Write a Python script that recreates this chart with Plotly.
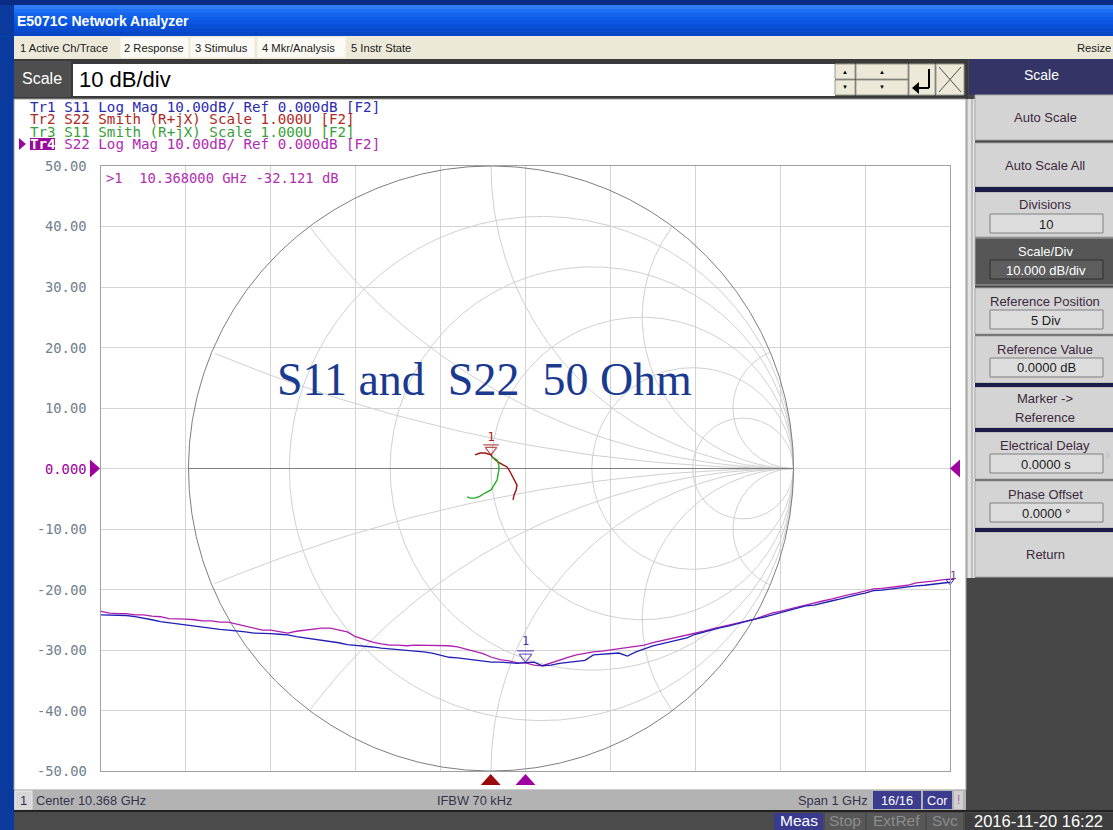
import numpy as np
import plotly.graph_objects as go

W, H = 1113, 830

# ---------------- sweep / measurement data ----------------
center_ghz = 10.368
span_ghz = 1.0
n_points = 101
freq_ghz = [round(center_ghz - span_ghz / 2 + i * span_ghz / (n_points - 1), 4) for i in range(n_points)]

# Tr1: S11 log magnitude (dB)
s11_logmag_db = [
    -24.2, -24.2, -24.2, -24.3, -24.5, -24.7, -25.0, -25.3, -25.5, -25.7, -25.9,
    -26.1, -26.3, -26.5, -26.6, -26.7, -26.8, -27.0, -27.2, -27.2, -27.3,
    -27.4, -27.5, -27.8, -28.0, -28.2, -28.3, -28.6, -28.8, -29.1, -29.2,
    -29.3, -29.5, -29.7, -29.8, -30.0, -30.0, -30.2, -30.3, -30.5, -30.8,
    -31.2, -31.3, -31.5, -31.7, -31.8, -32.0, -32.0, -32.1, -32.2, -32.1,
    -32.0, -32.6, -32.5, -32.2, -32.0, -31.8, -31.7, -30.8, -30.7, -30.6,
    -30.5, -31.0, -30.3, -29.8, -29.3, -29.0, -28.7, -28.3, -28.0, -27.4,
    -27.0, -26.7, -26.3, -26.0, -25.6, -25.3, -24.9, -24.6, -24.2, -23.8,
    -23.4, -23.1, -22.7, -22.6, -22.2, -21.9, -21.6, -21.2, -20.9, -20.6,
    -20.2, -20.1, -19.9, -19.8, -19.6, -19.4, -19.3, -19.1, -18.9, -18.8,
]

# Tr4: S22 log magnitude (dB)
s22_logmag_db = [
    -23.6, -23.9, -24.0, -24.0, -24.2, -24.2, -24.4, -24.5, -24.8, -24.8, -24.9,
    -25.0, -25.2, -25.2, -25.4, -25.4, -25.7, -26.0, -26.4, -26.7, -26.7,
    -27.0, -27.2, -26.9, -26.7, -26.5, -26.4, -26.4, -26.7, -27.0, -27.8,
    -28.3, -28.7, -29.0, -29.2, -29.2, -29.3, -29.2, -29.2, -29.2, -29.2,
    -29.3, -29.5, -29.9, -30.2, -30.6, -31.2, -31.6, -31.8, -32.1, -32.121,
    -32.5, -32.6, -32.1, -31.6, -31.2, -30.8, -30.5, -30.3, -30.2, -30.0,
    -29.8, -29.7, -29.5, -29.2, -28.8, -28.5, -28.2, -27.8, -27.5, -27.2,
    -26.9, -26.5, -26.2, -25.9, -25.5, -25.2, -24.9, -24.4, -23.9, -23.6,
    -23.2, -22.9, -22.6, -22.2, -21.9, -21.6, -21.2, -20.9, -20.6, -20.2,
    -19.9, -19.8, -19.6, -19.4, -19.3, -18.9, -18.8, -18.6, -18.4, -18.3,
]

# Tr2: S22 on the Smith chart (reflection coefficient, real / imaginary)
s22_gamma_re = [-0.053, -0.036, -0.020, -0.010, 0.000, 0.007, 0.023, 0.040,
                0.053, 0.060, 0.069, 0.079, 0.086, 0.083, 0.076, 0.073]
s22_gamma_im = [0.045, 0.051, 0.051, 0.048, 0.045, 0.035, 0.022, 0.012,
                0.005, -0.005, -0.022, -0.038, -0.055, -0.071, -0.088, -0.104]
s22_marker_idx = 4

# Tr3: S11 on the Smith chart
s11_gamma_re = [0.003, 0.020, 0.026, 0.026, 0.023, 0.020, 0.010, 0.000,
                -0.020, -0.036, -0.053, -0.069, -0.079]
s11_gamma_im = [0.038, 0.028, 0.012, -0.005, -0.022, -0.038, -0.055, -0.071,
                -0.081, -0.091, -0.098, -0.098, -0.094]

# marker readout
marker_freq_ghz = 10.368
marker_value_db = -32.121
smith_marker_freq_ghz = 10.327

y_tick_values = [50, 40, 30, 20, 10, 0, -10, -20, -30, -40, -50]
y_tick_labels = ["50.00", "40.00", "30.00", "20.00", "10.00", "0.000",
                 "-10.00", "-20.00", "-30.00", "-40.00", "-50.00"]

legend_lines = [
    ("Tr1 S11 Log Mag 10.00dB/ Ref 0.000dB [F2]", "#2a2ab0"),
    ("Tr2 S22 Smith (R+jX) Scale 1.000U [F2]", "#b0281c"),
    ("Tr3 S11 Smith (R+jX) Scale 1.000U [F2]", "#38a038"),
    ("Tr4 S22 Log Mag 10.00dB/ Ref 0.000dB [F2]", "#b02ab0"),
]

# ---------------- screen geometry (pixels) ----------------
GX0, GX1, GY0, GY1 = 101, 950, 166, 771        # graticule box
SMITH_CX = 491                                  # Smith chart centre column
SMITH_R = (GY1 - GY0) / 2                       # unit-circle radius in px

MONO = "DejaVu Sans Mono"
SANS = "Liberation Sans"
SERIF = "Liberation Serif"

C_BLUE = "#1f1fb4"
C_MAG = "#b01eb0"
C_RED = "#a01010"
C_GRN = "#22b022"
C_PURPLE = "#a000a0"


def X(px):
    return px / W


def Y(py):
    return 1 - py / H


shapes = []
annots = []


def rect(x0, y0, x1, y1, fill, line=None, lw=1, layer="below"):
    shapes.append(dict(type="rect", xref="paper", yref="paper",
                       x0=X(x0), x1=X(x1), y0=Y(y1), y1=Y(y0),
                       fillcolor=fill, layer=layer,
                       line=dict(color=line if line else fill, width=lw if line else 0)))


def seg(x0, y0, x1, y1, color, lw=1, layer="above"):
    shapes.append(dict(type="line", xref="paper", yref="paper",
                       x0=X(x0), x1=X(x1), y0=Y(y0), y1=Y(y1), layer=layer,
                       line=dict(color=color, width=lw)))


def tri(points, color, layer="above"):
    path = "M " + " L ".join(f"{X(a):.5f},{Y(b):.5f}" for a, b in points) + " Z"
    shapes.append(dict(type="path", xref="paper", yref="paper", path=path,
                       fillcolor=color, line=dict(color=color, width=0), layer=layer))


def text(x, y, s, size, color, family=SANS, xanchor="left"):
    annots.append(dict(xref="paper", yref="paper", x=X(x), y=Y(y), text=s,
                       showarrow=False, xanchor=xanchor, yanchor="middle",
                       borderpad=0, borderwidth=0,
                       font=dict(size=size, color=color, family=family)))


def f2px(f):
    return GX0 + (f - freq_ghz[0]) / (freq_ghz[-1] - freq_ghz[0]) * (GX1 - GX0)


def db2px(v):
    return GY0 + (50 - v) / 100 * (GY1 - GY0)


# ---------------- window chrome ----------------
rect(0, 0, 14, H, "#0b3a9e")
rect(0, 0, W, 5, "#0a2c84")
bands = ["#2f7cf6", "#1d6ff2", "#1565ec", "#0f5de6", "#0b56e0", "#0950d8", "#084bd0", "#0746c8"]
bh = 31 / len(bands)
for i, c in enumerate(bands):
    rect(0, 5 + i * bh, W, 5 + (i + 1) * bh + 0.5, c)
rect(0, 5, 14, 36, "#0b3a9e")
text(17, 21, "<b>E5071C Network Analyzer</b>", 14, "white")

# menu bar
rect(14, 36, W, 59, "#ece9d8")
for x0, x1 in [(121, 188), (191, 254), (258, 345)]:
    rect(x0, 38, x1, 57, "#fbfaf5", "#fbfaf5")
for x, s in [(20, "1 Active Ch/Trace"), (124, "2 Response"), (195, "3 Stimulus"),
             (262, "4 Mkr/Analysis"), (351, "5 Instr State")]:
    text(x, 47.5, s, 11.2, "#202020")
text(1111, 47.5, "Resize", 11.2, "#202020", xanchor="right")

# entry bar
rect(14, 59, 968, 99, "#3a3a3a")
rect(14, 61, 71, 97, "#4e4e4e")
text(42, 79, "Scale", 16, "white", xanchor="center")
rect(73, 64, 835, 96, "white")
text(79, 80, "10 dB/div", 22, "black")
for x0, x1 in [(835, 855), (856, 908)]:
    rect(x0, 64, x1, 79, "#ece9d8", "#9a9a90")
    rect(x0, 80, x1, 95, "#ece9d8", "#9a9a90")
    text((x0 + x1) / 2, 71.5, "▲", 6, "black", xanchor="center")
    text((x0 + x1) / 2, 87.5, "▼", 6, "black", xanchor="center")
rect(909, 64, 935, 95, "#ece9d8", "#9a9a90")
rect(936, 64, 964, 95, "#ece9d8", "#9a9a90")
seg(929, 69, 929, 88, "black", 2)
seg(929, 88, 918, 88, "black", 2)
tri([(912, 88), (919, 82), (919, 94)], "black")
seg(939, 67, 961, 92, "#505050", 1)
seg(961, 67, 939, 92, "#505050", 1)
rect(969, 59, W, 95, "#343466")
text(1041, 75, "Scale", 14, "white", xanchor="center")

# softkey panel
rect(966, 99, 975, 578, "#e2e2e2")
seg(967, 99, 967, 578, "#9a9a9a", 1, "below")
seg(972, 99, 972, 578, "#9a9a9a", 1, "below")
softkeys = [
    (95, 140, "Auto Scale", None, False),
    (143, 187, "Auto Scale All", None, False),
    (192, 237, "Divisions", "10", False),
    (238, 285, "Scale/Div", "10.000 dB/div", True),
    (288, 334, "Reference Position", "5 Div", False),
    (336, 383, "Reference Value", "0.0000 dB", False),
    (387, 428, "Marker ->|Reference", None, False),
    (432, 479, "Electrical Delay", "0.0000 s", False),
    (481, 528, "Phase Offset", "0.0000 °", False),
    (532, 577, "Return", None, False),
]
for y0, y1, label, value, sel in softkeys:
    fill = "#565656" if sel else "#d4d4d4"
    rect(975, y0, W + 2, y1, fill, "#a8a8a8")
    tc = "white" if sel else "#3c2a3c"
    if value is None:
        if "|" in label:
            a, b = label.split("|")
            text(1045, (y0 + y1) / 2 - 9, a, 13, tc, xanchor="center")
            text(1045, (y0 + y1) / 2 + 10, b, 13, tc, xanchor="center")
        else:
            text(1045, (y0 + y1) / 2, label, 13, tc, xanchor="center")
    else:
        text(1045, y0 + 13, label, 13, tc, xanchor="center")
        bf = "#5e5e5e" if sel else "#dcdcdc"
        rect(990, y0 + 22, 1103, y0 + 41, bf, "#808080" if not sel else "#2e2e2e")
        text(1046, y0 + 32, value, 13, "white" if sel else "#1c1c1c", xanchor="center")
for y0, y1 in [(187, 192), (383, 387), (428, 432), (528, 532)]:
    rect(975, y0, W + 2, y1, "#1c1c4a")
tri([(1106, 450), (1111, 455), (1106, 460)], "#c8c8d0")

# display panel
rect(14, 99, 966, 790, "white", "#9a9a9a")

# status bars
rect(14, 790, 966, 810, "#b3b3b3")
rect(15, 791, 32, 809, "#d6d6d6", "#e8e8e8")
text(23.5, 800, "1", 13, "#3a2a5a", xanchor="center")
text(36, 800, "Center 10.368 GHz", 12.8, "#33334d")
text(437, 800, "IFBW 70 kHz", 12.8, "#33334d")
text(798, 800, "Span 1 GHz", 12.8, "#33334d")
rect(873, 791, 921, 809, "#3c3c8e")
text(897, 800, "16/16", 12.8, "white", xanchor="center")
rect(923, 791, 952, 809, "#3c3c8e")
text(937.5, 800, "Cor", 12.8, "white", xanchor="center")
rect(954, 791, 963, 809, "#d0d0d0")
text(958.5, 800, "!", 12, "#b060b0", xanchor="center")
rect(14, 810, W, 812, "#222222")
rect(14, 812, W, H, "#4b4b4b")
rect(774, 813, 823, H, "#3a3a8e")
text(798.5, 820.5, "Meas", 15.5, "white", xanchor="center")
for x0, x1, s in [(825, 865, "Stop"), (867, 925, "ExtRef"), (927, 963, "Svc")]:
    rect(x0, 813, x1, H, "#585858")
    text((x0 + x1) / 2, 820.5, s, 15.5, "#8c8c8c", xanchor="center")
rect(965, 813, W, H, "#3e3e3e")
text(1038, 820.5, "2016-11-20 16:22", 16.5, "white", xanchor="center")

# ---------------- graticule labels / legend ----------------
for v, lab in zip(y_tick_values, y_tick_labels):
    annots.append(dict(xref="paper", yref="y2", x=X(88), y=v, text=lab, showarrow=False,
                       xanchor="right", yanchor="middle", borderpad=0,
                       font=dict(size=13.8, family=MONO,
                                 color=C_PURPLE if v == 0 else "#72808e")))

legend_y = [106.5, 119, 131.5, 144]
for (s, c), yy in zip(legend_lines, legend_y):
    if s.startswith("Tr4"):
        rect(30, yy - 6, 55, yy + 6, "#9a0a9a")
        tri([(19, yy - 6), (26, yy), (19, yy + 6)], "#9a0a9a")
        s = "<span style='color:white'><b>Tr4</b></span>" + s[3:]
    text(30, yy, s, 14.2, c, family=MONO)

text(106, 178, ">1\u00a0\u00a010.368000 GHz -32.121 dB", 13.8, "#b030b0", family=MONO)

text(484, 380, "S11 and\u00a0\u00a0S22\u00a0\u00a050 Ohm", 46, "#1a3a90", family=SERIF, xanchor="center")

# reference-position arrows at 0 dB
yr = db2px(0)
tri([(90, yr - 9), (100, yr), (90, yr + 9)], C_PURPLE)
tri([(960, yr - 9), (950, yr), (960, yr + 9)], C_PURPLE)

# stimulus marker flags under the graticule
xs = f2px(smith_marker_freq_ghz)
tri([(xs - 10, 785), (xs, 774), (xs + 10, 785)], "#9a0a0a")
xm = f2px(marker_freq_ghz)
tri([(xm - 10, 785), (xm, 774), (xm + 10, 785)], C_PURPLE)

# ---------------- figure ----------------
fig = go.Figure()

# Smith chart grid (constant resistance circles and reactance arcs)
grid_x, grid_y = [], []
t = np.linspace(0, 2 * np.pi, 721)
for r in [0.2, 0.5, 1.0, 2.0, 5.0]:
    c, rad = r / (1 + r), 1 / (1 + r)
    grid_x += list(c + rad * np.cos(t)) + [None]
    grid_y += list(rad * np.sin(t)) + [None]
for xv in [0.2, 0.5, 1.0, 2.0, 5.0, -0.2, -0.5, -1.0, -2.0, -5.0]:
    cx, cy, rad = 1.0, 1.0 / xv, 1.0 / abs(xv)
    gx = cx + rad * np.cos(t)
    gy = cy + rad * np.sin(t)
    inside = gx ** 2 + gy ** 2 <= 1.0 + 1e-9
    for a, b, k in zip(gx, gy, inside):
        grid_x.append(float(a) if k else None)
        grid_y.append(float(b) if k else None)
    grid_x.append(None)
    grid_y.append(None)
fig.add_trace(go.Scatter(x=grid_x, y=grid_y, mode="lines", xaxis="x", yaxis="y",
                         line=dict(color="#d0d0d0", width=1), hoverinfo="skip"))
fig.add_trace(go.Scatter(x=list(np.cos(t)) + [None, -1, 1], y=list(np.sin(t)) + [None, 0, 0],
                         mode="lines", xaxis="x", yaxis="y",
                         line=dict(color="#7e7e7e", width=1), hoverinfo="skip"))

# Smith traces
fig.add_trace(go.Scatter(x=s22_gamma_re, y=s22_gamma_im, mode="lines", xaxis="x", yaxis="y",
                         line=dict(color=C_RED, width=1.4), name="Tr2"))
fig.add_trace(go.Scatter(x=s11_gamma_re, y=s11_gamma_im, mode="lines", xaxis="x", yaxis="y",
                         line=dict(color=C_GRN, width=1.4), name="Tr3"))

# Smith marker on Tr2
gpx = 1 / SMITH_R  # gamma units per pixel
mre, mim = s22_gamma_re[s22_marker_idx], s22_gamma_im[s22_marker_idx]
fig.add_trace(go.Scatter(x=[mre, mre], y=[mim + 5 * gpx, mim + 10 * gpx], mode="markers",
                         xaxis="x", yaxis="y", cliponaxis=False,
                         marker=dict(symbol=["triangle-down-open", "line-ew-open"], size=[10, 11],
                                     color=C_RED, line=dict(color=C_RED, width=1.3))))
fig.add_trace(go.Scatter(x=[mre], y=[mim + 17 * gpx], mode="text", text=["1"], xaxis="x", yaxis="y",
                         textfont=dict(color="#b02020", size=12, family=MONO)))

# log-magnitude traces
fig.add_trace(go.Scatter(x=freq_ghz, y=s22_logmag_db, mode="lines", xaxis="x2", yaxis="y2",
                         line=dict(color=C_MAG, width=1.3), name="Tr4"))
fig.add_trace(go.Scatter(x=freq_ghz, y=s11_logmag_db, mode="lines", xaxis="x2", yaxis="y2",
                         line=dict(color=C_BLUE, width=1.3), name="Tr1"))

# log-mag markers
dbpx = 100 / (GY1 - GY0)  # dB per pixel
fig.add_trace(go.Scatter(x=[marker_freq_ghz, marker_freq_ghz],
                         y=[marker_value_db + 6 * dbpx, marker_value_db + 12 * dbpx],
                         mode="markers", xaxis="x2", yaxis="y2", cliponaxis=False,
                         marker=dict(symbol=["triangle-down-open", "line-ew-open"], size=[11, 12],
                                     color="#4a2ab0", line=dict(color="#4a2ab0", width=1.4))))
fig.add_trace(go.Scatter(x=[marker_freq_ghz], y=[marker_value_db + 21 * dbpx], mode="text", text=["1"],
                         xaxis="x2", yaxis="y2", cliponaxis=False,
                         textfont=dict(color="#5030b0", size=12, family=MONO)))
fe, ve = freq_ghz[-1], s22_logmag_db[-1]
fig.add_trace(go.Scatter(x=[fe], y=[ve - 2 * dbpx], mode="markers", xaxis="x2", yaxis="y2",
                         cliponaxis=False,
                         marker=dict(symbol="triangle-down-open", size=7, color="#4a2ab0",
                                     line=dict(color="#4a2ab0", width=1))))
fig.add_trace(go.Scatter(x=[fe], y=[ve + 3 * dbpx], mode="text", text=["1"], xaxis="x2", yaxis="y2",
                         cliponaxis=False, textposition="middle right",
                         textfont=dict(color="#9030a0", size=11, family=MONO)))

dom_x = [X(GX0), X(GX1)]
dom_y = [Y(GY1), Y(GY0)]

fig.update_layout(
    width=W, height=H, margin=dict(l=0, r=0, t=0, b=0),
    paper_bgcolor="#474747", plot_bgcolor="rgba(0,0,0,0)",
    showlegend=False, shapes=shapes, annotations=annots,
    xaxis=dict(domain=dom_x, range=[(GX0 - SMITH_CX) / SMITH_R, (GX1 - SMITH_CX) / SMITH_R],
               visible=False, fixedrange=True, anchor="y"),
    yaxis=dict(domain=dom_y, range=[-1, 1], visible=False, fixedrange=True, anchor="x"),
    xaxis2=dict(overlaying="x", anchor="y2", range=[freq_ghz[0], freq_ghz[-1]],
                tick0=freq_ghz[0], dtick=span_ghz / 10, showgrid=True, gridcolor="#d4d4d4",
                gridwidth=1, zeroline=False, showticklabels=False, ticks="",
                showline=True, linecolor="#a0a0a0", linewidth=1, mirror=True, fixedrange=True),
    yaxis2=dict(overlaying="y", anchor="x2", range=[-50, 50], tick0=0, dtick=10,
                showgrid=True, gridcolor="#d4d4d4", gridwidth=1, zeroline=False,
                showticklabels=False, ticks="", showline=True, linecolor="#a0a0a0",
                linewidth=1, mirror=True, fixedrange=True),
)

fig.write_html("out.html", config={"displayModeBar": False})
